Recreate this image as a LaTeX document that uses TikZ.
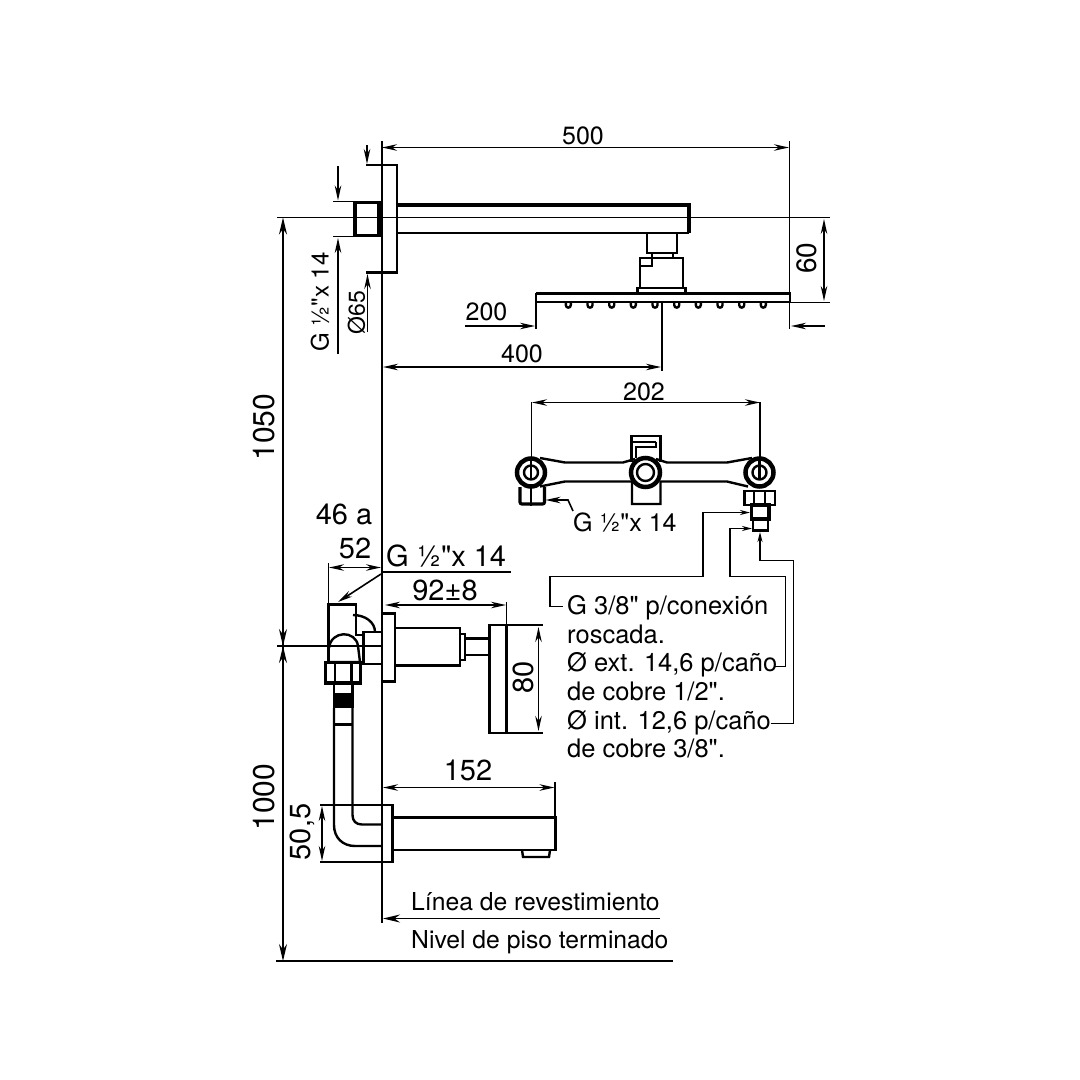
\documentclass[tikz,border=0pt]{standalone}
\usepackage{fontspec}
\setmainfont[Ligatures=TeXOff]{TeX Gyre Heros}
\usetikzlibrary{arrows.meta}
\tikzset{
  heavy/.style={line width=3.2pt},
  outline/.style={line width=2.4pt},
  dimline/.style={line width=1.6pt},
  dimarr/.style={dimline,{Stealth[length=15pt,width=6.5pt]}-{Stealth[length=15pt,width=6.5pt]}},
  dimend/.style={dimline,-{Stealth[length=15pt,width=6.5pt]}},
  bigarr/.style={dimline,-{Stealth[length=17pt,width=8pt]}},
  smallarr/.style={dimline,-{Stealth[length=10pt,width=5pt]}},
  lab/.style={inner sep=0pt,font=\fontsize{25}{25}\selectfont},
  biglab/.style={inner sep=0pt,font=\fontsize{29}{29}\selectfont},
  txtlab/.style={inner sep=0pt,font=\fontsize{25.5}{28.7}\selectfont},
  linelab/.style={inner sep=0pt,font=\fontsize{24.7}{25}\selectfont}
}
\begin{document}
\begin{tikzpicture}[x=1pt,y=-1pt]
  \useasboundingbox (0,0) rectangle (1080,1080);
  % wall, centre lines, floor
  \draw[outline] (382,141) -- (382,923);
  \draw[dimline] (277,217.5) -- (830,217.5);
  \draw[dimline] (277,646) -- (382,646);
  \draw[outline] (276,961) -- (673,961);
  \draw[dimline] (790,302.5) -- (830,302.5);
  % shower arm
  \draw[outline] (366,165) -- (397,165) -- (397,272.5) -- (366,272.5);
  \draw[heavy] (397,205) -- (689,205) -- (689,233);
  \draw[outline] (397,233) -- (689,233);
  \draw[heavy] (355,202.5) rectangle (379,235.5);
  \draw[dimline] (333,201.5) -- (383,201.5);
  \draw[dimline] (333,236.5) -- (383,236.5);
  % shower head
  \draw[outline] (647,233) rectangle (677,253);
  \draw[outline] (652,253) -- (652,258) (673,253) -- (673,258);
  \draw[outline] (640,288) -- (640,258) -- (683,258) -- (683,288);
  \draw[outline] (641,266) -- (652,266) -- (652,258);
  \draw[outline] (637.5,293) -- (637.5,288) -- (685.5,288) -- (685.5,293);
  \draw[heavy] (536,293.5) -- (791,293.5);
  \draw[outline] (536,293.5) -- (536,302) -- (790,302) -- (790,293.5);
  \foreach \nx in {568.3,590,611.7,633.3,655,676.7,698.3,720,741.7,763.3}
    \draw[outline] (\nx-2.5,302) -- (\nx-2.5,305) .. controls (\nx-2.5,308.5) and (\nx+2.5,308.5) .. (\nx+2.5,305) -- (\nx+2.5,302);
  % upper dimensions
  \draw[dimarr] (382,147.5) -- (789,147.5);
  \draw[dimline] (789.5,141) -- (789.5,329);
  \draw[dimend] (367,145) -- (367,164);
  \draw[dimend] (367.5,332) -- (367.5,274);
  \draw[dimend] (338,166) -- (338,200.5);
  \draw[dimend] (338,354) -- (338,238);
  \draw[dimend] (465,326) -- (535,326);
  \draw[dimline] (536,293) -- (536,329);
  \draw[dimend] (825,326) -- (791,326);
  \draw[dimarr] (824,219) -- (824,301);
  \draw[dimarr] (383,367) -- (661,367);
  \draw[dimline] (662,302) -- (662,371);
  \node[lab] (n500) at (583,136) {500};
  \node[lab] (n200) at (486.5,312) {200};
  \node[lab] (n400) at (522,353.5) {400};
  \node[biglab,rotate=90,font=\fontsize{28}{28}\selectfont] (n60) at (807,258) {60};
  \node[lab,rotate=90,font=\fontsize{24}{24}\selectfont] (thrA) at (320,302) {G ½"x 14};
  \node[lab,rotate=90,font=\fontsize{23}{23}\selectfont] (dia) at (356.5,312.5) {Ø65};
  % wall valve body
  \draw[outline] (631.5,462) -- (631.5,436) -- (660.5,436) -- (660.5,462);
  \draw[outline] (632,442) -- (656,442) (636,458) -- (636,447) -- (656,447) -- (656,442);
  \draw[outline] (540,458) -- (565,462.5) -- (623,462.5) -- (635,459);
  \draw[outline] (656,459) -- (667,462.5) -- (727,462.5) -- (752,458);
  \draw[outline] (540,486.5) -- (565,481.5) -- (632,481.5) -- (632,504) -- (660.5,504) -- (660.5,481.5) -- (727,481.5) -- (748,486.5);
  \foreach \cx in {531,759.5}{
    \draw[line width=4.5pt,fill=white] (\cx,472.5) circle[radius=14pt];
    \draw[outline] (\cx,472.5) circle[radius=7pt];
    \draw[outline] (\cx,458) -- (\cx,480);
  }
  \draw[line width=4.5pt,fill=white] (645.5,472.5) circle[radius=14.5pt];
  \draw[outline] (645.5,472.5) circle[radius=8.5pt];
  \draw[heavy,rounded corners=2pt] (520,487) -- (520,504) -- (544.5,504) -- (544.5,487);
  \draw[dimline] (531,487) -- (531,506);
  \draw[outline] (744.5,491) rectangle (775,505);
  \draw[dimline] (754,491) -- (754,505) (765,491) -- (765,505);
  \draw[heavy] (751.5,505) rectangle (769,519);
  \draw[outline] (753,519) rectangle (768,530.5);
  % wall valve dimensions and leaders
  \draw[dimarr] (532,402.5) -- (760,402.5);
  \draw[dimline] (531.5,402) -- (531.5,457);
  \draw[dimline] (760,402) -- (760,457);
  \draw[dimline,-{Stealth[length=15pt,width=6.5pt]}] (573,511) -- (568,500) -- (545.5,500);
  \draw[smallarr] (563,606.5) -- (550,606.5) -- (550,576.5) -- (703,576.5) -- (703,512.5) -- (750,512.5);
  \draw[smallarr] (775,666.5) -- (785.5,666.5) -- (785.5,576.5) -- (730,576.5) -- (730,528.5) -- (752,528.5);
  \draw[smallarr] (770.5,723.5) -- (793.5,723.5) -- (793.5,560.5) -- (760,560.5) -- (760,532);
  \node[lab] (n202) at (644,392) {202};
  \node[txtlab,anchor=base west,font=\fontsize{25}{25}\selectfont] (thrB) at (573,531) {G ½"x 14};
  \node[txtlab,anchor=south west,align=left] (note) at (567,758.5)
    {G 3/8" p/conexión\\roscada.\\Ø ext. 14,6 p/caño\\de cobre 1/2".\\Ø int. 12,6 p/caño\\de cobre 3/8".};
  % mixer
  \draw[outline] (328.5,662) -- (328.5,604.5) -- (356,604.5) -- (356,635) -- (363.5,635);
  \draw[outline] (353,615) .. controls (365,615) and (375,622) .. (375,632);
  \draw[outline] (329,648) .. controls (331,630) and (356,630) .. (358,646) -- (360,662) -- (328,662);
  \draw[outline] (363.5,632) rectangle (382,664);
  \draw[heavy] (325.5,662.5) rectangle (360.5,683);
  \draw[outline] (335,663) -- (335,683) (351.5,663) -- (351.5,683);
  \draw[outline] (334,683) -- (334,693) (352.5,683) -- (352.5,693);
  \fill (333,693) rectangle (354,708);
  \draw[outline] (334,708) -- (334,825) .. controls (334,838) and (343,846) .. (355,846) -- (381,846);
  \draw[outline] (352.5,708) -- (352.5,815) .. controls (352.5,821) and (356,824.5) .. (362,824.5) -- (381,824.5);
  \draw[outline] (334,724.5) -- (352.5,724.5);
  \draw[outline] (382,613.5) -- (395,613.5) -- (395,681.5) -- (382,681.5);
  \draw[outline] (395,628) -- (460,628) -- (460,665.5) -- (395,665.5);
  \draw[outline] (460,634) -- (465,634) -- (465,660) -- (460,660);
  \draw[outline] (465,638.5) -- (489.5,638.5) (465,655) -- (489.5,655);
  \draw[outline] (489.5,625) rectangle (506.5,733);
  % spout
  \draw[outline] (320,805) -- (392.5,805) -- (392.5,862) -- (320,862);
  \draw[outline] (392.5,817.5) -- (555.5,817.5) -- (555.5,850) -- (392.5,850);
  \draw[outline] (522,850) -- (523,857) -- (549,857) -- (550,850);
  % lower dimensions
  \draw[bigarr] (283,646) -- (283,217.5);
  \draw[bigarr] (283,646) -- (283,961);
  \draw[bigarr] (283,442) -- (283,646);
  \draw[bigarr] (283,850) -- (283,646);
  \draw[dimarr] (329,567.5) -- (381,567.5);
  \draw[dimline] (328.5,563) -- (328.5,605);
  \draw[dimline] (382,572) -- (510.5,572);
  \draw[dimend] (381,574) -- (338,602);
  \draw[dimarr] (385,605) -- (506,605);
  \draw[dimline] (506.5,602) -- (506.5,625);
  \draw[dimline] (506.5,625) -- (542.5,625);
  \draw[dimline] (506.5,733) -- (542.5,733);
  \draw[dimarr] (538.5,627) -- (538.5,731);
  \draw[dimarr] (322,806) -- (322,861);
  \draw[dimarr] (383,787.5) -- (554.5,787.5);
  \draw[dimline] (555,782) -- (555,817);
  \draw[bigarr] (660,918.5) -- (383,918.5);
  \node[biglab,rotate=90,font=\fontsize{30}{30}\selectfont] (n1050) at (264,427) {1050};
  \node[biglab,rotate=90,font=\fontsize{30}{30}\selectfont] (n1000) at (264,797) {1000};
  \node[biglab] (n46) at (344,514) {46 a};
  \node[biglab] (n52) at (355,548) {52};
  \node[biglab,anchor=base west] (thrC) at (386,566) {G ½"x 14};
  \node[biglab] (n92) at (445,590) {92±8};
  \node[biglab,rotate=90] (n80) at (523,677) {80};
  \node[biglab,rotate=90] (n505) at (302,832) {50,5};
  \node[biglab] (n152) at (468,770) {152};
  \node[linelab,anchor=base west] (rev) at (411,910) {Línea de revestimiento};
  \node[linelab,anchor=base west] (piso) at (411,948) {Nivel de piso terminado};
\end{tikzpicture}
\end{document}
